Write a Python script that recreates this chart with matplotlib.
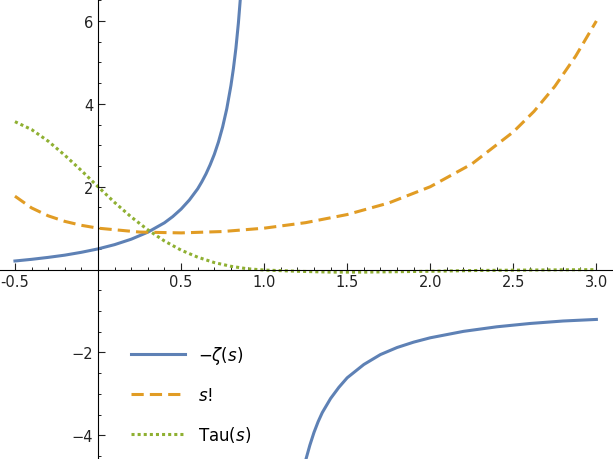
import matplotlib
matplotlib.use("Agg")
import matplotlib.pyplot as plt

# -zeta(s), left branch (s < 1)
zeta_x1 = [-0.5, -0.4, -0.3, -0.2, -0.1, 0.0, 0.1, 0.2, 0.3, 0.4, 0.45, 0.5, 0.55, 0.6, 0.625, 0.65, 0.675, 0.7, 0.725, 0.75, 0.775, 0.8, 0.815, 0.83, 0.845, 0.86, 0.87, 0.88]
zeta_y1 = [0.208, 0.248, 0.295, 0.349, 0.418, 0.5, 0.603, 0.734, 0.904, 1.13, 1.28, 1.46, 1.68, 1.95, 2.12, 2.31, 2.53, 2.78, 3.08, 3.44, 3.88, 4.44, 4.85, 5.34, 5.95, 6.7, 7.3, 8.0]
# -zeta(s), right branch (s > 1)
zeta_x2 = [1.22, 1.25, 1.275, 1.3, 1.325, 1.35, 1.4, 1.45, 1.5, 1.6, 1.7, 1.8, 1.9, 2.0, 2.2, 2.4, 2.6, 2.8, 3.0]
zeta_y2 = [-5.2, -4.6, -4.24, -3.93, -3.67, -3.45, -3.11, -2.84, -2.61, -2.29, -2.05, -1.88, -1.75, -1.645, -1.49, -1.38, -1.30, -1.24, -1.202]
# s!
fact_x = [-0.5, -0.4, -0.3, -0.2, -0.1, 0.0, 0.25, 0.5, 0.75, 1.0, 1.25, 1.5, 1.75, 2.0, 2.25, 2.5, 2.625, 2.75, 2.875, 3.0]
fact_y = [1.772, 1.489, 1.298, 1.164, 1.069, 1.0, 0.906, 0.886, 0.919, 1.0, 1.133, 1.329, 1.608, 2.0, 2.549, 3.323, 3.82, 4.423, 5.15, 6.0]
# Tau(s)
tau_x = [-0.5, -0.4, -0.3, -0.2, -0.1, 0.0, 0.1, 0.2, 0.3, 0.4, 0.5, 0.6, 0.7, 0.8, 0.9, 1.0, 1.2, 1.4, 1.6, 1.8, 2.0, 2.3, 2.6, 3.0]
tau_y = [3.57, 3.38, 3.1, 2.76, 2.39, 2.0, 1.62, 1.27, 0.96, 0.69, 0.47, 0.3, 0.17, 0.08, 0.02, -0.01, -0.04, -0.06, -0.06, -0.05, -0.04, -0.02, -0.01, 0.0]

xticks = [-0.5, 0.5, 1.0, 1.5, 2.0, 2.5, 3.0]
yticks = [-4, -2, 2, 4, 6]

blue, orange, green = "#5E81B5", "#E19C24", "#8FB032"

fig = plt.figure(figsize=(6.13, 4.6), dpi=100)
ax = fig.add_axes([0, 0, 1, 1])
ax.set_xlim(-0.59, 3.1)
ax.set_ylim(-4.57, 6.53)
kw = dict(lw=2.2, solid_joinstyle="round", dash_joinstyle="round")
ax.plot(zeta_x1, zeta_y1, color=blue, label=r"$-\zeta(s)$", **kw)
ax.plot(zeta_x2, zeta_y2, color=blue, **kw)
ax.plot(fact_x, fact_y, color=orange, ls=(0, (4, 2)), label=r"$s$!", **kw)
ax.plot(tau_x, tau_y, color=green, ls=(0, (1, 1)), label=r"Tau($s$)", **kw)

for s in ["top", "right"]:
    ax.spines[s].set_visible(False)
ax.spines["left"].set_position(("data", 0))
ax.spines["bottom"].set_position(("data", 0))
ax.set_xticks(xticks)
ax.set_xticklabels([f"{v:.1f}" for v in xticks])
ax.set_yticks(yticks)
ax.tick_params(direction="in", length=5, labelsize=10.5, colors="#222222")
ax.set_xticks([x / 10 for x in range(-5, 31) if x % 5], minor=True)
ax.set_yticks([y / 2 for y in range(-9, 14) if y % 4], minor=True)
ax.tick_params(which="minor", direction="in", length=2.5)
ax.legend(loc="lower left", bbox_to_anchor=(0.19, 0.0), frameon=False,
          fontsize=12, handlelength=3.2, labelspacing=1.2)
fig.savefig("out.png", dpi=100)
